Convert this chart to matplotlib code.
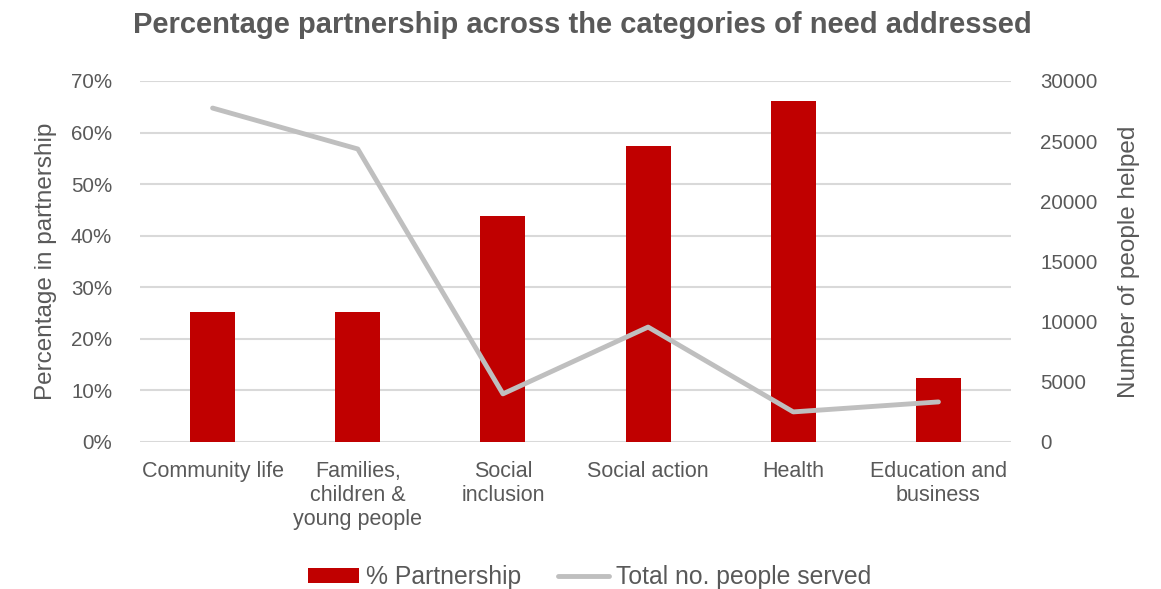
import numpy as np
import matplotlib.pyplot as plt
from matplotlib.ticker import FuncFormatter

categories = ["Community life", "Families,\nchildren &\nyoung people", "Social\ninclusion",
              "Social action", "Health", "Education and\nbusiness"]
pct_partnership = [25.2, 25.2, 43.8, 57.4, 66.1, 12.4]
people_served = [27750, 24350, 4000, 9550, 2500, 3330]

plt.rcParams["font.family"] = ["Liberation Sans", "DejaVu Sans"]
TXT = "#595959"
RED = "#c00000"
GREY = "#bfbfbf"

fig = plt.figure(figsize=(11.61, 5.89), dpi=100)
ax = fig.add_axes([0.1206, 0.2496, 0.7502, 0.6129])
x = np.arange(len(categories))

ax.bar(x, pct_partnership, width=0.31, color=RED, zorder=3, label="% Partnership")
ax.set_xlim(-0.5, len(categories) - 0.5)
ax.set_ylim(0, 70)
ax.set_yticks(np.arange(0, 71, 10))
ax.yaxis.set_major_formatter(FuncFormatter(lambda v, _: f"{v:.0f}%"))
ax.grid(axis="y", color="#d9d9d9", linewidth=1.5, zorder=0)
ax.set_xticks(x)
ax.set_xticklabels(categories, fontsize=15.5, color=TXT, linespacing=1.18)
ax.tick_params(axis="y", labelsize=14.8, labelcolor=TXT, length=0, pad=20)
ax.tick_params(axis="x", length=0, pad=14)
ax.set_ylabel("Percentage in partnership", fontsize=17.5, color=TXT, labelpad=10)
for s in ax.spines.values():
    s.set_visible(False)

ax2 = ax.twinx()
ax2.plot(x, people_served, color=GREY, linewidth=3.5, solid_capstyle="round",
         zorder=4, label="Total no. people served")
ax2.set_ylim(0, 30000)
ax2.set_yticks(np.arange(0, 30001, 5000))
ax2.tick_params(axis="y", labelsize=14.8, labelcolor=TXT, length=0, pad=21)
ax2.set_ylabel("Number of people helped", fontsize=17.5, color=TXT, labelpad=15)
for s in ax2.spines.values():
    s.set_visible(False)

fig.suptitle("Percentage partnership across the categories of need addressed",
             x=0.502, y=0.982, fontsize=21, fontweight="bold", color=TXT)

h1, l1 = ax.get_legend_handles_labels()
h2, l2 = ax2.get_legend_handles_labels()
leg = fig.legend(h1 + h2, l1 + l2, loc="center", bbox_to_anchor=(0.508, 0.02),
                 ncol=2, frameon=False, fontsize=17.8, handlelength=2.05,
                 handleheight=0.55, columnspacing=1.5, handletextpad=0.3)
for t in leg.get_texts():
    t.set_color(TXT)

fig.savefig("out.png", dpi=100)
